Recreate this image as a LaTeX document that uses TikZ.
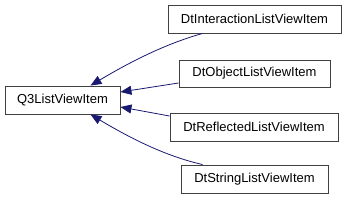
\documentclass[tikz,border=0pt]{standalone}
\usepackage{fontspec}
\setmainfont{Liberation Sans}
\usetikzlibrary{arrows.meta,calc}
\definecolor{edgeblue}{HTML}{191970}
\tikzset{
  cls/.style={draw=black!75, line width=0.9pt, fill=white, minimum height=28pt, inner sep=0pt, font=\fontsize{13}{15}\selectfont},
  edge/.style={draw=edgeblue, line width=0.8pt, {Triangle[length=11pt,width=9pt,fill=edgeblue]}-}
}
\begin{document}
\begin{tikzpicture}[x=1pt,y=-1pt]
\useasboundingbox (0,0) rectangle (347,200);
\node[cls, minimum width=115pt] (q3) at (62.5,100) {Q3ListViewItem};
\node[cls, minimum width=173pt] (inter) at (254.5,19) {DtInteractionListViewItem};
\node[cls, minimum width=151pt, minimum height=27pt] (obj) at (254.5,73.5) {DtObjectListViewItem};
\node[cls, minimum width=168pt] (refl) at (254,127) {DtReflectedListViewItem};
\node[cls, minimum width=147pt] (str) at (254.5,179) {DtStringListViewItem};
\draw[edge] ($(q3.north)+(28,0)$) .. controls (130,62) and (165,44) .. ($(inter.south west)+(35,0)$);
\draw[edge] ($(q3.east)+(0,-8)$) -- ($(obj.west)+(0,9.5)$);
\draw[edge] ($(q3.east)+(0,7)$) -- ($(refl.west)+(0,-11)$);
\draw[edge] ($(q3.south)+(28,0)$) .. controls (130,138) and (165,156) .. ($(str.north west)+(22,0)$);
\end{tikzpicture}
\end{document}
